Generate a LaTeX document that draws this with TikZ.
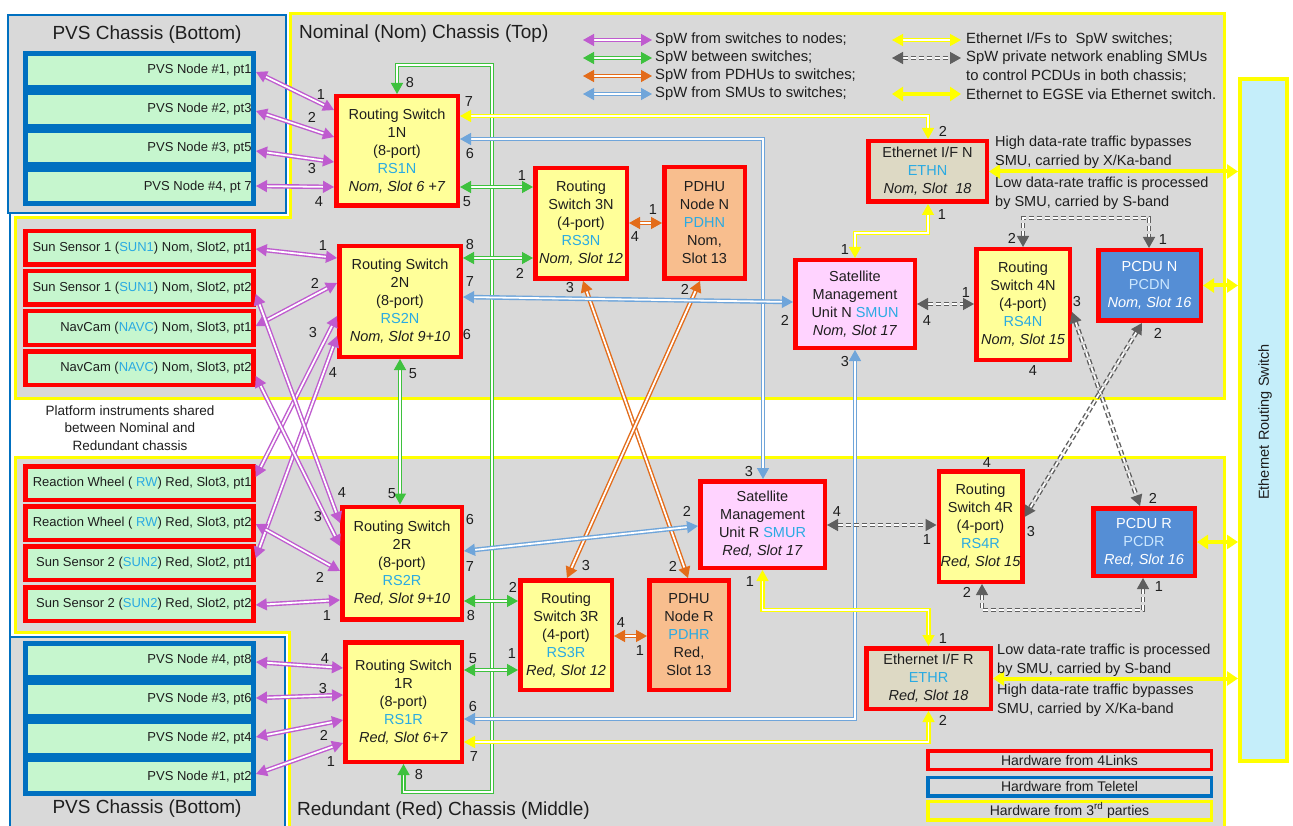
\documentclass[tikz,border=0pt]{standalone}
\usepackage{fontspec}
\setmainfont{Liberation Sans}
\usetikzlibrary{arrows.meta,calc}

\definecolor{bggray}{HTML}{D9D9D9}
\definecolor{boxred}{HTML}{FF0000}
\definecolor{tblue}{HTML}{0070C0}
\definecolor{chyellow}{HTML}{FFFF00}
\definecolor{nodegreen}{HTML}{C6F6CE}
\definecolor{swfill}{HTML}{FFFF99}
\definecolor{pdhfill}{HTML}{F8BE8E}
\definecolor{smufill}{HTML}{FFD3FF}
\definecolor{ethfill}{HTML}{DDD9C4}
\definecolor{pcdfill}{HTML}{558ED5}
\definecolor{erswfill}{HTML}{C5EEFA}
\definecolor{cyantxt}{HTML}{2AAAE2}
\definecolor{txt}{HTML}{1E1E1E}
\definecolor{spwpurple}{HTML}{BF5BCF}
\definecolor{spwgreen}{HTML}{3EC13E}
\definecolor{spworange}{HTML}{E36C1A}
\definecolor{spwblue}{HTML}{6FA5DA}
\definecolor{privgray}{HTML}{5F5F5F}
\definecolor{pcdtxt}{HTML}{CBE7FF}

\newcommand\cyt[1]{\textcolor{cyantxt}{#1}}
\newcommand\rowtext[1]{\makebox[224pt][r]{#1}}
\newcommand\portno[3]{\node[portnum] (#1) at (#2) {#3};}

\tikzset{
  x=1pt, y=-1pt,
  every node/.style={text=txt},
  chassis/.style={fill=bggray, draw=chyellow, line width=3pt},
  pvsch/.style={fill=bggray, draw=tblue, line width=2pt},
  title/.style={font=\fontsize{19}{22}\selectfont, inner sep=0pt},
  osz/.style 2 args={minimum width=#1pt-4.5pt, minimum height=#2pt-4.5pt},
  boxbase/.style={draw=boxred, line width=4.5pt, align=center, inner sep=0pt,
    font=\fontsize{14.5}{18}\selectfont},
  swbox/.style={boxbase, fill=swfill},
  pdhbox/.style={boxbase, fill=pdhfill},
  smubox/.style={boxbase, fill=smufill},
  ethbox/.style={boxbase, fill=ethfill},
  pcdbox/.style={boxbase, fill=pcdfill, text=white},
  rowbase/.style={line width=4.5pt, fill=nodegreen, inner xsep=2pt, inner ysep=0pt,
    font=\fontsize{13}{16}\selectfont},
  senrow/.style={rowbase, draw=boxred, minimum height=33.5pt},
  pvsrow/.style={rowbase, draw=tblue, line width=5pt, minimum height=34pt},
  ersw/.style={draw=chyellow, line width=4pt, fill=erswfill, minimum width=47pt, minimum height=682pt},
  legbox/.style={line width=3.5pt, minimum width=283.5pt, minimum height=18.5pt, inner sep=0pt,
    font=\fontsize{14}{16}\selectfont},
  portnum/.style={font=\fontsize{14.5}{16}\selectfont, inner sep=0pt},
  legtxt/.style={anchor=west, font=\fontsize{14.8}{17}\selectfont, inner sep=0pt},
  note/.style={anchor=west, align=left, font=\fontsize{14.5}{19}\selectfont, inner sep=0pt},
  tips/.style={arrows={Triangle[length=11pt,width=12pt]-Triangle[length=11pt,width=12pt]}},
  wire/.style={tips, double=white, line width=1.4pt, double distance=1.8pt},
  pw/.style={wire, draw=spwpurple},
  gw/.style={wire, draw=spwgreen},
  ow/.style={wire, draw=spworange},
  bw/.style={wire, draw=spwblue},
  yw/.style={wire, draw=chyellow},
  dw/.style={wire, draw=privgray, dash pattern=on 5pt off 3pt},
  ew/.style={draw=chyellow, line width=4pt,
    arrows={Triangle[length=11pt,width=14pt]-Triangle[length=11pt,width=14pt]}},
}

\begin{document}
\begin{tikzpicture}
\useasboundingbox[fill=white] (0,0) rectangle (1293,826);

% ---------- chassis backgrounds ----------
\draw[chassis] (290,14) -- (1224,14) -- (1224,398) -- (15,398) -- (15,218) -- (290,218) -- cycle;
\draw[chassis] (15,457) -- (1224,457) -- (1224,830) -- (289,830) -- (289,632) -- (15,632) -- cycle;
\draw[tblue, line width=2pt] (10,213) -- (10,637);
\draw[pvsch] (8,15) rectangle (286,213);
\draw[pvsch] (10,637) rectangle (285,832);
\fill[tblue] (23,51) rectangle (256,206);
\fill[tblue] (23,641) rectangle (256,796);

% ---------- titles ----------
\node[title] (tpvstop) at (147,35) {PVS Chassis (Bottom)};
\node[title] (tpvsbot) at (147,809) {PVS Chassis (Bottom)};
\node[title, anchor=west] (tnom) at (299,34) {Nominal (Nom) Chassis (Top)};
\node[title, anchor=west] (tred) at (297,811) {Redundant (Red) Chassis (Middle)};
\node[align=center, font=\fontsize{13.5}{17.5}\selectfont, inner sep=0pt] (shared) at (130,428)
  {Platform instruments shared\\between Nominal and\\Redundant chassis};

% ---------- PVS nodes ----------
\node[pvsrow] (pvs1) at (139.5,70.5) {\rowtext{PVS Node \#1, pt1}};
\node[pvsrow] (pvs2) at (139.5,109.25) {\rowtext{PVS Node \#2, pt3}};
\node[pvsrow] (pvs3) at (139.5,148) {\rowtext{PVS Node \#3, pt5}};
\node[pvsrow] (pvs4) at (139.5,186.75) {\rowtext{PVS Node \#4, pt 7}};
\node[pvsrow] (pvsb8) at (139.5,660.5) {\rowtext{PVS Node \#4, pt8}};
\node[pvsrow] (pvsb6) at (139.5,699.25) {\rowtext{PVS Node \#3, pt6}};
\node[pvsrow] (pvsb4) at (139.5,738) {\rowtext{PVS Node \#2, pt4}};
\node[pvsrow] (pvsb2) at (139.5,776.75) {\rowtext{PVS Node \#1, pt2}};

% ---------- platform instruments ----------
\node[senrow] (sun1a) at (139.5,248) {\rowtext{Sun Sensor 1 (\cyt{SUN1}) Nom, Slot2, pt1}};
\node[senrow] (sun1b) at (139.5,288) {\rowtext{Sun Sensor 1 (\cyt{SUN1}) Nom, Slot2, pt2}};
\node[senrow] (navc1) at (139.5,328) {\rowtext{NavCam (\cyt{NAVC}) Nom, Slot3, pt1}};
\node[senrow] (navc2) at (139.5,368) {\rowtext{NavCam (\cyt{NAVC}) Nom, Slot3, pt2}};
\node[senrow] (rw1) at (139.5,483) {\rowtext{Reaction Wheel ( \cyt{RW}) Red, Slot3, pt1}};
\node[senrow] (rw2) at (139.5,523) {\rowtext{Reaction Wheel ( \cyt{RW}) Red, Slot3, pt2}};
\node[senrow] (sun2a) at (139.5,563) {\rowtext{Sun Sensor 2 (\cyt{SUN2}) Red, Slot2, pt1}};
\node[senrow] (sun2b) at (139.5,604) {\rowtext{Sun Sensor 2 (\cyt{SUN2}) Red, Slot2, pt2}};

% ---------- switches and units ----------
\node[swbox, osz={126}{114}] (rs1n) at (397,151) {Routing Switch\\1N\\(8-port)\\\cyt{RS1N}\\\textit{Nom, Slot 6 +7}};
\node[swbox, osz={126}{115}] (rs2n) at (400,301.5) {Routing Switch\\2N\\(8-port)\\\cyt{RS2N}\\\textit{Nom, Slot 9+10}};
\node[swbox, osz={124}{117}] (rs2r) at (402,563) {Routing Switch\\2R\\(8-port)\\\cyt{RS2R}\\\textit{Red, Slot 9+10}};
\node[swbox, osz={121}{124}] (rs1r) at (403.5,702) {Routing Switch\\1R\\(8-port)\\\cyt{RS1R}\\\textit{Red, Slot 6+7}};
\node[swbox, osz={96}{115}] (rs3n) at (581,223.5) {Routing\\Switch 3N\\(4-port)\\\cyt{RS3N}\\\textit{Nom, Slot 12}};
\node[pdhbox, osz={85}{116}] (pdhn) at (704.5,223) {PDHU\\Node N\\\cyt{PDHN}\\Nom,\\Slot 13};
\node[swbox, osz={96}{114}] (rs3r) at (566,635) {Routing\\Switch 3R\\(4-port)\\\cyt{RS3R}\\\textit{Red, Slot 12}};
\node[pdhbox, osz={84}{114}] (pdhr) at (689,635) {PDHU\\Node R\\\cyt{PDHR}\\Red,\\Slot 13};
\node[smubox, osz={124}{92}] (smun) at (855,304) {Satellite\\Management\\Unit N \cyt{SMUN}\\\textit{Nom, Slot 17}};
\node[smubox, osz={129}{91}] (smur) at (762.5,524.5) {Satellite\\Management\\Unit R \cyt{SMUR}\\\textit{Red, Slot 17}};
\node[swbox, osz={98}{115}] (rs4n) at (1023,304.5) {Routing\\Switch 4N\\(4-port)\\\cyt{RS4N}\\\textit{Nom, Slot 15}};
\node[swbox, osz={88}{115}] (rs4r) at (980.5,526.5) {Routing\\Switch 4R\\(4-port)\\\cyt{RS4R}\\\textit{Red, Slot 15}};
\node[pcdbox, osz={107}{75}] (pcdn) at (1149.5,285.5) {PCDU N\\\textcolor{pcdtxt}{PCDN}\\\textit{Nom, Slot 16}};
\node[pcdbox, osz={106}{72}] (pcdr) at (1144,542) {PCDU R\\\textcolor{pcdtxt}{PCDR}\\\textit{Red, Slot 16}};
\node[ethbox, osz={123}{65}] (ethn) at (927.5,171.5) {Ethernet I/F N\\\cyt{ETHN}\\\textit{Nom, Slot\ \ 18}};
\node[ethbox, osz={129}{65}] (ethr) at (928.5,678.5) {Ethernet I/F R\\\cyt{ETHR}\\\textit{Red, Slot 18}};
\node[ersw] (ethsw) at (1263.5,420) {};
\node[rotate=90, font=\fontsize{14.5}{16}\selectfont, inner sep=0pt] (ethswlbl) at (1265,422) {Ethernet Routing Switch};

% ---------- SpW: switches to nodes ----------
\draw[pw] (pvs1.east |- 0,72) -- (rs1n.west |- 0,110);
\draw[pw] (pvs2.east |- 0,111) -- (rs1n.west |- 0,137);
\draw[pw] (pvs3.east |- 0,151) -- (rs1n.west |- 0,162);
\draw[pw] (pvs4.east |- 0,186) -- (rs1n.west |- 0,187);
\draw[pw] (sun1a.east |- 0,249) -- (rs2n.west |- 0,258);
\draw[pw] (navc1.east |- 0,326) -- (rs2n.west |- 0,283);
\draw[pw] (rw1.east |- 0,477) -- (rs2n.west |- 0,316);
\draw[pw] (sun2a.east |- 0,558) -- (rs2n.west |- 0,336);
\draw[pw] (sun1b.east |- 0,294) -- (rs2r.west |- 0,523);
\draw[pw] (navc2.east |- 0,376) -- (rs2r.west |- 0,546);
\draw[pw] (rw2.east |- 0,524) -- (rs2r.west |- 0,571);
\draw[pw] (sun2b.east |- 0,605) -- (rs2r.west |- 0,600);
\draw[pw] (pvsb8.east |- 0,662) -- (rs1r.west |- 0,668);
\draw[pw] (pvsb6.east |- 0,698) -- (rs1r.west |- 0,695);
\draw[pw] (pvsb4.east |- 0,737) -- (rs1r.west |- 0,720);
\draw[pw] (pvsb2.east |- 0,774) -- (rs1r.west |- 0,743);

% ---------- SpW: between switches ----------
\coordinate (gtop) at (492,65);
\coordinate (gbot) at (492,792);
\draw[gw] (rs1n.north) -- (rs1n.north |- gtop) -- (gtop) -- (gbot) -- (rs1r.south |- gbot) -- (rs1r.south);
\draw[gw] (rs1n.east |- 0,187) -- (rs3n.west |- 0,187);
\draw[gw] (rs2n.east |- 0,258) -- (rs3n.west |- 0,258);
\draw[gw] (rs2n.south) -- (rs2n.south |- rs2r.north);
\draw[gw] (rs2r.east |- 0,601) -- (rs3r.west |- 0,601);
\draw[gw] (rs1r.east |- 0,670) -- (rs3r.west |- 0,670);

% ---------- SpW: PDHUs to switches ----------
\draw[ow] (rs3n.east |- 0,223) -- (pdhn.west |- 0,223);
\draw[ow] (rs3r.east |- 0,636) -- (pdhr.west |- 0,636);
\draw[ow] (rs3n.south -| 583,0) -- (pdhr.north -| 688,0);
\draw[ow] (pdhn.south -| 700,0) -- (rs3r.north -| 567,0);

% ---------- SpW: SMUs to switches ----------
\draw[bw] (rs1n.east |- 0,139) -| (smur.north -| 763,0);
\draw[bw] (rs2n.east |- 0,297) -- (smun.west |- 0,302);
\draw[bw] (rs1r.east |- 0,719) -| (smun.south);
\draw[bw] (rs2r.east |- 0,551) -- (smur.west |- 0,526);

% ---------- Ethernet I/Fs to SpW switches ----------
\draw[yw] (rs1n.east |- 0,116) -| (ethn.north -| 928,0);
\draw[yw] (ethn.south -| 928,0) -- ++(0,29) -| (smun.north);
\draw[yw] (smur.south) -- ++(0,40) -| (ethr.north);
\draw[yw] (rs1r.east |- 0,742) -| (ethr.south);

% ---------- Ethernet to EGSE ----------
\draw[ew] (ethn.east) -- (ethn.east -| ethsw.west);
\draw[ew] (ethr.east) -- (ethr.east -| ethsw.west);
\draw[ew] (pcdn.east) -- (pcdn.east -| ethsw.west);
\draw[ew] (pcdr.east) -- (pcdr.east -| ethsw.west);

% ---------- SpW private network ----------
\draw[dw] (smun.east |- 0,304) -- (rs4n.west |- 0,304);
\draw[dw] (smur.east |- 0,525) -- (rs4r.west |- 0,525);
\draw[dw] (rs4n.north) -- ++(0,-29) -| (pcdn.north -| 1149,0);
\draw[dw] (rs4r.south -| 982,0) -- ++(0,26) -| (pcdr.south -| 1143,0);
\draw[dw] (rs4n.east |- 0,312) -- (pcdr.north -| 1140,0);
\draw[dw] (pcdn.south -| 1142,0) -- (rs4r.east |- 0,517);

% ---------- traffic notes ----------
\node[note] (noteA) at (995,152.5) {High data-rate traffic bypasses\\SMU, carried by X/Ka-band};
\node[note] (noteB) at (995,193.5) {Low data-rate traffic is processed\\by SMU, carried by S-band};
\node[note] (noteC) at (997,660) {Low data-rate traffic is processed\\by SMU, carried by S-band};
\node[note] (noteD) at (997,700.5) {High data-rate traffic bypasses\\SMU, carried by X/Ka-band};

% ---------- port numbers ----------
\portno{p1n8}{410,83}{8}  \portno{p1n7}{469,102}{7} \portno{p1n6}{470,154}{6} \portno{p1n5}{467,202}{5}
\portno{p1n1}{321,95}{1}  \portno{p1n2}{312,117}{2} \portno{p1n3}{312,169}{3} \portno{p1n4}{319,202}{4}
\portno{p2n1}{323,246}{1} \portno{p2n2}{315,283}{2} \portno{p2n3}{313,333}{3} \portno{p2n4}{333,373}{4}
\portno{p2n8}{470,245}{8} \portno{p2n7}{470,282}{7} \portno{p2n6}{467,335}{6} \portno{p2n5}{413,374}{5}
\portno{p2r5}{392,494}{5} \portno{p2r4}{342,493}{4} \portno{p2r3}{318,517}{3} \portno{p2r2}{320,577}{2}
\portno{p2r1}{327,616}{1} \portno{p2r6}{470,520}{6} \portno{p2r7}{470,567}{7} \portno{p2r8}{471,616}{8}
\portno{p1r4}{325,659}{4} \portno{p1r3}{323,689}{3} \portno{p1r2}{324,735}{2} \portno{p1r1}{331,762}{1}
\portno{p1r5}{473,659}{5} \portno{p1r6}{473,707}{6} \portno{p1r7}{474,757}{7} \portno{p1r8}{419,775}{8}
\portno{p3n1}{522,176}{1} \portno{p3n2}{520,273}{2} \portno{p3n3}{570,288}{3} \portno{p3n4}{635,237}{4}
\portno{pdn1}{653,210}{1} \portno{pdn2}{685,289}{2}
\portno{p3r2}{513,587}{2} \portno{p3r1}{512,654}{1} \portno{p3r3}{586,566}{3} \portno{p3r4}{621,623}{4}
\portno{pdr2}{673,566}{2} \portno{pdr1}{640,651}{1}
\portno{smn1}{845,250}{1} \portno{smn2}{785,320}{2} \portno{smn3}{845,362}{3} \portno{smn4}{927,321}{4}
\portno{smr3}{749,472}{3} \portno{smr2}{687,511}{2} \portno{smr4}{837,512}{4} \portno{smr1}{750,582}{1}
\portno{p4n1}{966,293}{1} \portno{p4n2}{1012,238}{2} \portno{p4n3}{1077,302}{3} \portno{p4n4}{1033,371}{4}
\portno{p4r4}{987,463}{4} \portno{p4r1}{927,540}{1} \portno{p4r2}{967,592}{2} \portno{p4r3}{1031,532}{3}
\portno{pcn1}{1163,240}{1} \portno{pcn2}{1158,333}{2}
\portno{pcr2}{1153,498}{2} \portno{pcr1}{1159,587}{1}
\portno{etn2}{943,131}{2} \portno{etn1}{942,215}{1}
\portno{etr1}{943,639}{1} \portno{etr2}{943,720}{2}

% ---------- legend: link types ----------
\coordinate (la1) at (583,40); \coordinate (lb1) at (652,40);
\coordinate (la2) at (583,58); \coordinate (lb2) at (652,58);
\coordinate (la3) at (583,76); \coordinate (lb3) at (652,76);
\coordinate (la4) at (583,94); \coordinate (lb4) at (652,94);
\coordinate (ra1) at (892,40); \coordinate (rb1) at (961,40);
\coordinate (ra2) at (892,58); \coordinate (rb2) at (961,58);
\coordinate (ra4) at (892,94); \coordinate (rb4) at (961,94);
\draw[pw] (la1) -- (lb1);
\draw[gw] (la2) -- (lb2);
\draw[ow] (la3) -- (lb3);
\draw[bw] (la4) -- (lb4);
\draw[yw] (ra1) -- (rb1);
\draw[dw] (ra2) -- (rb2);
\draw[ew] (ra4) -- (rb4);
\node[legtxt] (lt1) at (655,40) {SpW from switches to nodes;};
\node[legtxt] (lt2) at (655,58) {SpW between switches;};
\node[legtxt] (lt3) at (655,76) {SpW from PDHUs to switches;};
\node[legtxt] (lt4) at (655,94) {SpW from SMUs to switches;};
\node[legtxt] (rt1) at (966,40) {Ethernet I/Fs to\ \ SpW switches;};
\node[legtxt] (rt2) at (966,58) {SpW private network enabling SMUs};
\node[legtxt] (rt3) at (966,76) {to control PCDUs in both chassis;};
\node[legtxt] (rt4) at (966,94) {Ethernet to EGSE via Ethernet switch.};

% ---------- legend: hardware suppliers ----------
\node[legbox, draw=boxred] (hw4l) at (1069.5,760) {Hardware from 4Links};
\node[legbox, draw=tblue] (hwtt) at (1069.5,786.5) {Hardware from Teletel};
\node[legbox, draw=chyellow] (hw3p) at (1069.5,810.5) {Hardware from 3\textsuperscript{rd} parties};
\end{tikzpicture}
\end{document}
